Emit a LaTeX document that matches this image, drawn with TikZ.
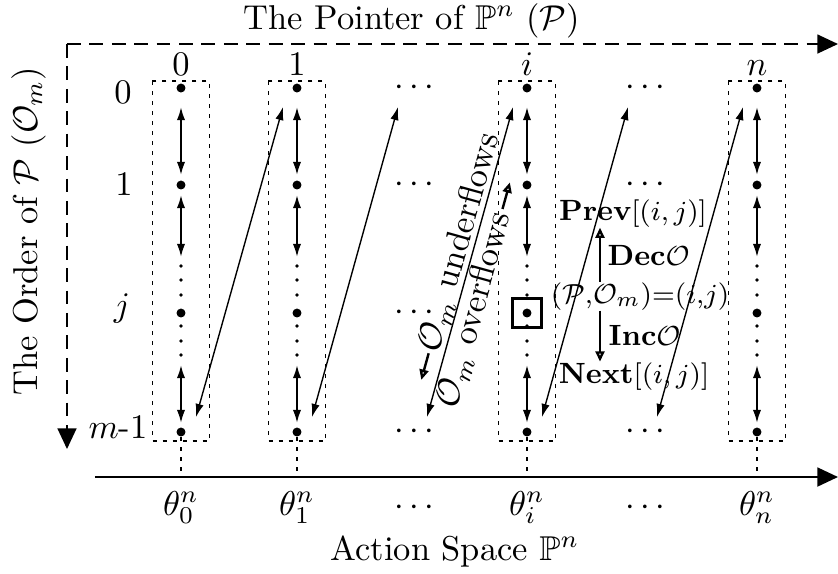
\documentclass[tikz,border=0pt]{standalone}
\usepackage{amsmath,amssymb}
\usetikzlibrary{arrows.meta,calc}
\begin{document}
\begin{tikzpicture}[x=0.29pt,y=-0.29pt,
  bigdot/.style={circle,fill,inner sep=0pt,minimum size=2.6pt},
  smalldot/.style={circle,fill,inner sep=0pt,minimum size=1.1pt},
  colbox/.style={dash pattern=on 1.2pt off 1.7pt,line width=0.5pt},
  vdash/.style={dash pattern=on 1.2pt off 1.7pt,line width=0.5pt},
  axisdash/.style={dash pattern=on 4pt off 2.5pt,line width=0.5pt},
  axisline/.style={line width=0.6pt},
  bigtip/.style={-{Triangle[length=6pt,width=5.5pt]}},
  dbl/.style={{Latex[length=3.8pt,width=2.4pt]}-{Latex[length=3.8pt,width=2.4pt]},line width=0.55pt},
  diag/.style={{Latex[length=3.8pt,width=2.4pt]}-{Latex[length=3.8pt,width=2.4pt]},line width=0.4pt},
  opentip/.style={-{Triangle[open,length=3pt,width=2.6pt]},line width=0.7pt},
  lab/.style={inner sep=0pt,anchor=base},
  ann/.style={inner sep=0pt,anchor=base,font=\fontsize{8.5}{10}\selectfont},
  sqbox/.style={draw,line width=0.9pt,minimum size=8.2pt,inner sep=0pt},
]
\useasboundingbox (0,0) rectangle (838,573);

% axes
\coordinate (corner) at (67,44);
\coordinate (topend) at (838,44);
\coordinate (leftend) at (67,449);
\draw[axisdash,bigtip] (corner) -- (topend);
\draw[axisdash,bigtip] (corner) -- (leftend);
\coordinate (axL) at (95,477);
\coordinate (axR) at (838,477);
\draw[axisline,bigtip] (axL) -- (axR);

% axis titles
\node[lab] (title) at (412,29) {The Pointer of $\mathbb{P}^n$ ($\mathcal{P}$)};
\node[lab,rotate=90] (ylab) at (37,231) {The Order of $\mathcal{P}$ ($\mathcal{O}_m$)};
\node[lab] (xlab) at (455,560) {Action Space $\mathbb{P}^n$};

% row labels
\node[lab] (row0) at (123,103) {$0$};
\node[lab] (row1) at (124,195) {$1$};
\node[lab] (rowj) at (122,316) {$j$};
\node[lab] (rowm) at (118,438) {$m$-1};

% columns
\foreach \X/\N/\h/\t in {181/c0/0/0, 297/c1/1/1, 527/ci/i/i, 757/cn/n/n}{
  \draw[colbox] (\X-28.5,81) rectangle (\X+28.5,441);
  \node[bigdot] (\N-0) at (\X,88) {};
  \node[bigdot] (\N-1) at (\X,185) {};
  \node[bigdot] (\N-j) at (\X,313) {};
  \node[bigdot] (\N-m) at (\X,432) {};
  \foreach \yy in {266,280,295,326,341,355}{
    \node[smalldot] (\N-s\yy) at (\X,\yy) {};
  }
  \coordinate (\N-a) at (\X,107);
  \coordinate (\N-b) at (\X,175);
  \coordinate (\N-c) at (\X,195);
  \coordinate (\N-d) at (\X,257);
  \coordinate (\N-e) at (\X,365);
  \coordinate (\N-f) at (\X,423);
  \draw[dbl] (\N-a) -- (\N-b);
  \draw[dbl] (\N-c) -- (\N-d);
  \draw[dbl] (\N-e) -- (\N-f);
  \draw[vdash] (\N-m) -- (\N-m |- axL);
  \node[lab] (\N-head) at (\X,75) {$\h$};
  \node[lab] (\N-theta) at (\X,515) {$\theta^n_{\t}$};
}
\node[sqbox] (box) at (ci-j) {};

% dots columns
\foreach \X/\N in {417/d1,648/d2}{
  \node[inner sep=0pt] (\N-0) at (\X,88) {$\cdots$};
  \node[inner sep=0pt] (\N-1) at (\X,185) {$\cdots$};
  \node[inner sep=0pt] (\N-m) at (\X,432) {$\cdots$};
  \node[lab] (\N-theta) at (\X,515) {$\cdots$};
}
\node[inner sep=0pt] (d1-j) at (417,313) {$\cdots$};

% wrap-around diagonals
\foreach \i/\bx/\tx in {0/196/283, 1/312/398, 2/427/513, 3/542/628, 4/657/743}{
  \coordinate (db\i) at (\bx,417);
  \coordinate (dt\i) at (\tx,107);
}
\draw[diag] (db0) -- (dt0);
\draw[diag] (db1) -- (dt1);
\draw[diag] (db2) -- (dt2)
  node[sloped,above,pos=0.55,inner sep=0pt] (uf) {$\mathcal{O}_m$ underflows}
  node[sloped,below,pos=0.36,inner sep=0.5pt] (of) {$\mathcal{O}_m$ overflows};
\draw[diag] (db3) -- (dt3);
\draw[diag] (db4) -- (dt4);
\draw[opentip] ($(uf.west)!-0.5pt!(uf.east)$) -- ($(uf.west)!-8.5pt!(uf.east)$);
\draw[opentip] ($(of.east)!-0.5pt!(of.west)$) -- ($(of.east)!-8.5pt!(of.west)$);

% annotation
\node[ann] (prev) at (633,220) {\textbf{Prev}$[(i,j)]$};
\node[ann,anchor=base west] (dec) at (607,265) {\textbf{Dec}$\mathcal{O}$};
\node[ann] (eq) at (640,303) {$(\mathcal{P}{,}\mathcal{O}_m){=}(i{,}j)$};
\node[ann,anchor=base west] (inc) at (608,345) {\textbf{Inc}$\mathcal{O}$};
\node[ann] (next) at (634,383) {\textbf{Next}$[(i,j)]$};
\coordinate (ax) at (600,0);
\draw[opentip] (eq.north -| ax) -- (prev.south -| ax);
\draw[opentip] (eq.south -| ax) -- (next.north -| ax);
\end{tikzpicture}
\end{document}
